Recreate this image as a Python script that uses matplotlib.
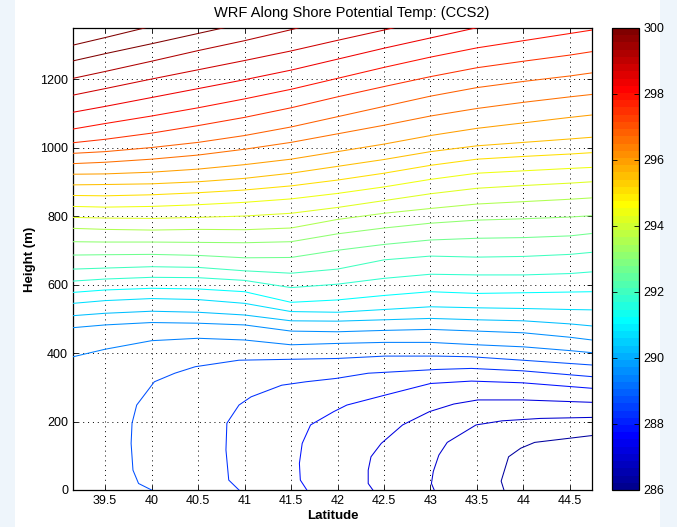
import numpy as np
import matplotlib
matplotlib.use("Agg")
import matplotlib.pyplot as plt
from matplotlib.colors import Normalize, ListedColormap
from matplotlib.cm import ScalarMappable
from matplotlib.patches import Rectangle

plt.rcParams['font.family'] = ['Liberation Sans', 'DejaVu Sans']

title = "WRF Along Shore Potential Temp: (CCS2)"
xlabel = "Latitude"
ylabel = "Height (m)"
xticks = [39.5, 40, 40.5, 41, 41.5, 42, 42.5, 43, 43.5, 44, 44.5]
xtick_labels = ["39.5", "40", "40.5", "41", "41.5", "42", "42.5", "43", "43.5", "44", "44.5"]
yticks = [0, 200, 400, 600, 800, 1000, 1200]
cbar_ticks = [286, 288, 290, 292, 294, 296, 298, 300]

lat_cols = [39.155, 39.5, 40.0, 40.5, 41.0, 41.5, 42.0, 42.5, 43.0, 43.5, 44.0, 44.5, 44.737]

# isentrope levels (K), top to bottom, and their heights (m) per column
strat_levels = [300.3, 299.8, 299.3, 298.9, 298.4, 297.9, 297.4, 296.9, 296.5, 296.0,
                295.5, 295.0, 294.5, 294.1, 293.6, 293.1, 292.6, 292.1, 291.7, 291.2,
                290.7, 290.2, 289.7, 289.3]
nan = np.nan
strat_heights = [
    [1299, 1321, 1354, 1387, nan, nan, nan, nan, nan, nan, nan, nan, nan],
    [1253, 1274, 1303, 1333, 1363, 1395, nan, nan, nan, nan, nan, nan, nan],
    [1202, 1222, 1252, 1283, 1312, 1344, 1378, nan, nan, nan, nan, nan, nan],
    [1153, 1172, 1200, 1227, 1254, 1282, 1313, 1343, 1375, nan, nan, nan, nan],
    [1103, 1120, 1146, 1172, 1198, 1226, 1258, 1290, 1320, 1350, 1378, nan, nan],
    [1054, 1070, 1092, 1116, 1142, 1170, 1202, 1234, 1264, 1291, 1312, 1333, 1343],
    [1014, 1024, 1042, 1064, 1088, 1116, 1148, 1178, 1207, 1233, 1252, 1270, 1280],
    [983, 988, 1000, 1015, 1035, 1060, 1090, 1120, 1150, 1175, 1193, 1209, 1218],
    [953, 957, 966, 978, 995, 1015, 1040, 1065, 1092, 1114, 1132, 1148, 1155],
    [922, 923, 928, 937, 950, 966, 988, 1010, 1035, 1056, 1072, 1088, 1095],
    [891, 892, 894, 900, 910, 925, 945, 965, 988, 1005, 1015, 1025, 1030],
    [860, 859, 862, 868, 876, 888, 905, 925, 948, 966, 974, 981, 985],
    [828, 826, 828, 833, 840, 850, 866, 885, 907, 925, 932, 939, 942],
    [796, 794, 793, 796, 800, 808, 825, 845, 865, 881, 889, 896, 900],
    [764, 761, 759, 761, 760, 765, 790, 808, 822, 835, 842, 849, 853],
    [725, 724, 724, 723, 722, 725, 748, 765, 779, 788, 792, 797, 801],
    [686, 687, 688, 685, 678, 679, 700, 717, 730, 735, 737, 742, 749],
    [645, 648, 652, 650, 640, 633, 645, 672, 683, 680, 682, 688, 694],
    [610, 616, 621, 620, 612, 591, 601, 618, 630, 628, 628, 632, 637],
    [577, 584, 589, 587, 579, 548, 555, 568, 579, 574, 576, 578, 579],
    [545, 553, 559, 556, 545, 521, 519, 527, 535, 532, 530, 527, 526],
    [509, 516, 522, 519, 511, 494, 493, 497, 501, 497, 494, 485, 479],
    [474, 482, 489, 487, 482, 464, 462, 466, 469, 464, 459, 446, 438],
    [389, 411, 436, 443, 438, 424, 428, 431, 431, 424, 418, 407, 401],
]

# cold pool isentropes near the surface, traced as (lat, height)
pool_levels = [288.8, 288.3, 287.8, 287.3, 286.9, 286.4]
pool_lat = [
    [40.0, 39.86, 39.80, 39.78, 39.79, 39.84, 40.03, 40.25, 40.47, 40.94, 41.99, 42.51, 43.07, 43.44, 43.99, 44.737],
    [40.94, 40.83, 40.80, 40.81, 40.94, 41.07, 41.40, 41.66, 41.99, 42.33, 43.07, 43.44, 43.99, 44.737],
    [41.67, 41.60, 41.59, 41.62, 41.71, 41.96, 42.10, 42.51, 43.0, 43.44, 43.99, 44.737],
    [42.38, 42.33, 42.33, 42.36, 42.47, 42.70, 42.99, 43.25, 43.51, 43.99, 44.737],
    [43.04, 43.01, 43.03, 43.09, 43.18, 43.49, 43.77, 44.18, 44.737],
    [43.79, 43.76, 43.84, 43.97, 44.12, 44.737],
]
pool_z = [
    [0, 19, 58, 136, 195, 248, 316, 341, 360, 379, 384, 391, 391, 389, 379, 365],
    [0, 29, 117, 195, 248, 272, 306, 316, 326, 341, 352, 355, 348, 331],
    [0, 29, 78, 136, 190, 229, 248, 277, 311, 318, 313, 297],
    [0, 19, 58, 97, 136, 190, 229, 251, 263, 263, 256],
    [0, 19, 54, 102, 139, 190, 202, 209, 212],
    [0, 26, 97, 122, 139, 159],
]


def matlab_jet(n=64):
    # same construction as MATLAB's jet(n)
    m = int(np.ceil(n / 4))
    u = np.concatenate([np.arange(1, m + 1) / m, np.ones(m - 1), np.arange(m, 0, -1) / m])
    g = int(np.ceil(m / 2)) - (1 if n % 4 == 1 else 0) + np.arange(1, len(u) + 1)
    r = g + m
    b = g - m
    J = np.zeros((n, 3))
    J[r[r <= n] - 1, 0] = u[r <= n]
    J[g[g <= n] - 1, 1] = u[g <= n]
    J[b[b >= 1] - 1, 2] = u[b >= 1]
    return ListedColormap(J)


cmap = matlab_jet(64)
norm = Normalize(vmin=286, vmax=300, clip=True)

fig = plt.figure(figsize=(6.77, 5.27), dpi=100)
fig.patch.set_facecolor('#eef5fb')
fig.add_artist(Rectangle((15 / 677, 0), (660 - 15) / 677, 1, transform=fig.transFigure,
                         facecolor='white', edgecolor='none', zorder=-5))

ax = fig.add_axes([73 / 677, 37 / 527, 519 / 677, 462 / 527])

for lev, zs in zip(strat_levels, strat_heights):
    ax.plot(lat_cols, zs, color=cmap(norm(lev)), lw=0.75, zorder=3)
for lev, xs, zs in zip(pool_levels, pool_lat, pool_z):
    ax.plot(xs, zs, color=cmap(norm(lev)), lw=0.75, zorder=3)

ax.set_xlim(39.155, 44.737)
ax.set_ylim(0, 1349)
ax.set_xticks(xticks)
ax.set_xticklabels(xtick_labels)
ax.set_yticks(yticks)
ax.tick_params(direction='in', top=True, right=True, length=3.5, width=0.6, labelsize=9)
ax.grid(True, color='black', linestyle=(0, (1, 4)), linewidth=0.7)
for sp in ax.spines.values():
    sp.set_linewidth(0.9)

ax.set_xlabel(xlabel, fontsize=9.5, fontweight='bold')
ax.set_ylabel(ylabel, fontsize=9.5, fontweight='bold')
ax.xaxis.set_label_coords(0.5, (490 - 510) / 462)
ax.yaxis.set_label_coords((36 - 73) / 519, 0.5)

fig.text(352 / 677, 1 - 13 / 527, title, ha='center', va='center', fontsize=10.5)

cax = fig.add_axes([612 / 677, 37 / 527, 27 / 677, 462 / 527])
cb = fig.colorbar(ScalarMappable(norm=norm, cmap=cmap), cax=cax, ticks=cbar_ticks)
cb.outline.set_linewidth(0.9)
cax.tick_params(direction='in', left=True, right=True, length=3.5, width=0.6,
                labelsize=9, pad=3)

fig.savefig("out.png", dpi=100, facecolor=fig.get_facecolor())
